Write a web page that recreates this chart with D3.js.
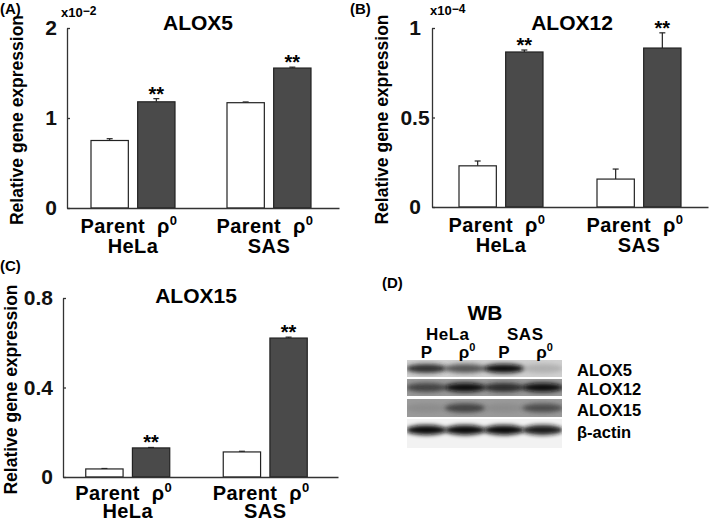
<!DOCTYPE html>
<html>
<head>
<meta charset="utf-8">
<script src="https://cdn.jsdelivr.net/npm/d3@7"></script>
<style>
  body { margin: 0; background: #fff; }
  svg { font-family: "Liberation Sans", Arial, sans-serif; font-weight: bold; }
</style>
</head>
<body>
<svg id="chart" width="709" height="523"></svg>
<script>
// bar chart data
var cellLines = ["HeLa", "SAS"];
var conditions = ["Parent", "rho0"];

var alox5Values = [0.75, 1.18, 1.17, 1.555];   // x10^-2
var alox5Errors = [0.02, 0.035, 0.008, 0.01];
var alox5Ticks = [0, 1, 2];

var alox12Values = [0.23, 0.866, 0.156, 0.888]; // x10^-4
var alox12Errors = [0.027, 0.011, 0.056, 0.085];
var alox12Ticks = [0, 0.5, 1];

var alox15Values = [0.036, 0.13, 0.112, 0.621];
var alox15Errors = [0.002, 0.002, 0.003, 0.004];
var alox15Ticks = [0, 0.4, 0.8];

var stars = ["", "**", "", "**"];

// western blot
var blotRows = ["ALOX5", "ALOX12", "ALOX15", "β-actin"];
var blotLanes = ["P", "ρ0", "P", "ρ0"];
var blotCells = ["HeLa", "SAS"];
var alox5Bands = [0.85, 0.7, 1.0, 0.2];
var alox12Bands = [0.75, 1.0, 0.85, 1.0];
var alox15Bands = [0.3, 0.75, 0.3, 0.7];
var actinBands = [1.0, 1.0, 1.0, 0.95];

var svg = d3.select("#chart");
svg.append("rect").attr("width", 709).attr("height", 523).attr("fill", "#fff");

function drawPanel(p) {
  var g = svg.append("g");

  var y = d3.scaleLinear().domain(p.domain).range([p.yBottom, p.yTop]);
  var xGroup = d3.scaleBand().domain(cellLines).range([p.xLeft, p.xRight]);

  var rows = [];
  cellLines.forEach(function(c, i) {
    conditions.forEach(function(k, j) {
      var n = i * 2 + j;
      rows.push({cell: c, cond: k, value: p.values[n], err: p.errors[n], star: stars[n]});
    });
  });

  function barX(d) {
    var c = xGroup(d.cell) + xGroup.bandwidth() / 2 + p.shift;
    var sub = d3.scaleBand().domain(conditions).range([c - 42, c + 42]).paddingInner(0.2);
    return sub(d.cond);
  }
  var bw = 84 / 1.8 * 0.8;

  // error bars (upper only)
  var eb = g.selectAll(".err").data(rows).enter().append("g");
  eb.append("line")
    .attr("x1", function(d) { return barX(d) + bw / 2; })
    .attr("x2", function(d) { return barX(d) + bw / 2; })
    .attr("y1", function(d) { return y(d.value); })
    .attr("y2", function(d) { return y(d.value + d.err); })
    .attr("stroke", "#222").attr("stroke-width", 1.2);
  eb.append("line")
    .attr("x1", function(d) { return barX(d) + bw / 2 - 3; })
    .attr("x2", function(d) { return barX(d) + bw / 2 + 3; })
    .attr("y1", function(d) { return y(d.value + d.err); })
    .attr("y2", function(d) { return y(d.value + d.err); })
    .attr("stroke", "#222").attr("stroke-width", 1.2);

  g.selectAll(".bar").data(rows).enter().append("rect")
    .attr("x", barX)
    .attr("y", function(d) { return y(d.value); })
    .attr("width", bw)
    .attr("height", function(d) { return y(0) - y(d.value); })
    .attr("fill", function(d) { return d.cond == "Parent" ? "#fff" : "#4a4a4a"; })
    .attr("stroke", "#222").attr("stroke-width", 1.2);

  g.selectAll(".star").data(rows).enter().append("text")
    .attr("x", function(d) { return barX(d) + bw / 2; })
    .attr("y", function(d) { return y(d.value + d.err) + 2; })
    .attr("text-anchor", "middle")
    .attr("font-size", 20)
    .text(function(d) { return d.star; });

  // y axis
  var yAxis = g.append("g")
    .attr("transform", "translate(" + p.xLeft + ",0)")
    .call(d3.axisLeft(y).tickValues(p.ticks).tickSizeInner(-3).tickSizeOuter(0)
      .tickPadding(p.tickPad).tickFormat(function(d) { return d; }));
  yAxis.selectAll("path, line").attr("stroke", "#333").attr("stroke-width", 1.3);
  yAxis.selectAll("text")
    .attr("font-size", 21).attr("font-weight", "bold").attr("fill", "#111")
    .attr("font-family", "Liberation Sans, Arial, sans-serif")
    .attr("text-anchor", p.tickAnchor);

  // x axis line
  var xAxis = g.append("g")
    .attr("transform", "translate(0," + y(0) + ")")
    .call(d3.axisBottom(xGroup).tickSize(0).tickFormat(""));
  xAxis.select("path").attr("stroke", "#333").attr("stroke-width", 1.3);

  // category labels
  cellLines.forEach(function(c) {
    var cx = xGroup(c) + xGroup.bandwidth() / 2 + p.shift;
    var t = g.append("text")
      .attr("x", cx - 4).attr("y", y(0) + p.lab1)
      .attr("text-anchor", "middle").attr("font-size", 20)
      .attr("letter-spacing", 0.4);
    t.append("tspan").text("Parent\u00a0\u00a0ρ");
    t.append("tspan").attr("font-size", 13).attr("dy", -8).text("0");
    g.append("text")
      .attr("x", cx).attr("y", y(0) + p.lab2)
      .attr("text-anchor", "middle").attr("font-size", 20)
      .attr("letter-spacing", 0.4)
      .text(c);
  });

  g.append("text")
    .attr("x", p.titleX).attr("y", p.titleY)
    .attr("text-anchor", "middle").attr("font-size", 21)
    .text(p.title);

  g.append("text")
    .attr("transform", "translate(" + p.labelX + "," + ((p.yTop + p.yBottom) / 2 + 2) + ") rotate(-90)")
    .attr("text-anchor", "middle").attr("font-size", 17.5)
    .text("Relative gene expression");

  if (p.exp) {
    var e = g.append("text").attr("x", p.expX).attr("y", p.expY).attr("font-size", 13);
    e.append("tspan").text("x10");
    e.append("tspan").attr("font-size", 12).attr("dy", -2).text("−" + p.exp);
  }

  g.append("text").attr("x", p.letterX).attr("y", p.letterY)
    .attr("font-size", 15).text(p.letter);
}

drawPanel({
  values: alox5Values, errors: alox5Errors, ticks: alox5Ticks, domain: [0, 2],
  xLeft: 67, xRight: 339, yTop: 28, yBottom: 208, shift: -2,
  tickPad: 16, tickAnchor: "middle", lab1: 25, lab2: 45,
  title: "ALOX5", titleX: 198, titleY: 30, labelX: 23,
  exp: "2", expX: 61, expY: 17, letter: "(A)", letterX: 0, letterY: 14
});

drawPanel({
  values: alox12Values, errors: alox12Errors, ticks: alox12Ticks, domain: [0, 1],
  xLeft: 432, xRight: 708, yTop: 28, yBottom: 207, shift: 0,
  tickPad: 17, tickAnchor: "middle", lab1: 25, lab2: 45,
  title: "ALOX12", titleX: 572, titleY: 30, labelX: 388,
  exp: "4", expX: 430, expY: 15, letter: "(B)", letterX: 350, letterY: 14
});

drawPanel({
  values: alox15Values, errors: alox15Errors, ticks: alox15Ticks, domain: [0, 0.8],
  xLeft: 63, xRight: 338, yTop: 298, yBottom: 477, shift: -4,
  tickPad: 10, tickAnchor: "end", lab1: 23, lab2: 41,
  title: "ALOX15", titleX: 196, titleY: 303, labelX: 17,
  exp: null, letter: "(C)", letterX: 0, letterY: 271
});

// ---- panel D: western blot ----
var wb = svg.append("g");
var defs = svg.append("defs");
defs.append("filter").attr("id", "blur").attr("x", "-30%").attr("y", "-100%")
  .attr("width", "160%").attr("height", "300%")
  .append("feGaussianBlur").attr("stdDeviation", 2.2);

var lane = d3.scaleBand().domain(d3.range(blotLanes.length)).range([407, 562]);
var rowY = d3.scaleOrdinal().domain(blotRows).range([360, 379, 399, 419]);
var rowH = d3.scaleOrdinal().domain(blotRows).range([17, 17, 18, 29]);
var rowBg = d3.scaleOrdinal().domain(blotRows).range(["#cfcfcf", "#999", "#9a9a9a", "#f2f2f2"]);
var rowBands = d3.scaleOrdinal().domain(blotRows).range([alox5Bands, alox12Bands, alox15Bands, actinBands]);
var shade = d3.scaleLinear().domain([0, 1]).range(["#b8b8b8", "#0a0a0a"]);

blotRows.forEach(function(r) {
  var top = rowY(r), h = rowH(r);
  var clip = defs.append("clipPath").attr("id", "clip" + top);
  clip.append("rect").attr("x", 407).attr("y", top).attr("width", 155).attr("height", h);
  var rg = wb.append("g").attr("clip-path", "url(#clip" + top + ")");
  rg.append("rect").attr("x", 407).attr("y", top).attr("width", 155).attr("height", h)
    .attr("fill", rowBg(r));
  var cy = r == "β-actin" ? top + 11 : top + h / 2;
  rg.selectAll(".band").data(rowBands(r)).enter().append("ellipse")
    .attr("cx", function(d, i) { return lane(i) + lane.bandwidth() / 2; })
    .attr("cy", cy)
    .attr("rx", lane.bandwidth() / 2 + 1)
    .attr("ry", r == "β-actin" ? 5 : 4.5)
    .attr("fill", function(d) { return shade(d); })
    .attr("opacity", function(d) { return 0.4 + 0.6 * d; })
    .attr("filter", "url(#blur)");
  wb.append("text").attr("x", 577).attr("y", top + (r == "β-actin" ? 19 : h - 1))
    .attr("font-size", 16.5).text(r);
});

wb.append("text").attr("x", 485).attr("y", 320).attr("text-anchor", "middle")
  .attr("font-size", 21).text("WB");
blotCells.forEach(function(c, i) {
  var cx = (lane(i * 2) + lane(i * 2 + 1) + lane.bandwidth()) / 2;
  wb.append("text").attr("x", cx + 2).attr("y", 340).attr("text-anchor", "middle")
    .attr("font-size", 17).attr("letter-spacing", 0.5).text(c);
});
blotLanes.forEach(function(l, i) {
  var t = wb.append("text").attr("x", lane(i) + lane.bandwidth() / 2 + (i % 2 ? 2 : 0)).attr("y", 358)
    .attr("text-anchor", "middle").attr("font-size", 17);
  t.append("tspan").text(l.charAt(0));
  if (l.length > 1) t.append("tspan").attr("font-size", 11).attr("dy", -7).text(l.slice(1));
});
wb.append("text").attr("x", 382).attr("y", 288).attr("font-size", 15).text("(D)");
</script>
</body>
</html>
